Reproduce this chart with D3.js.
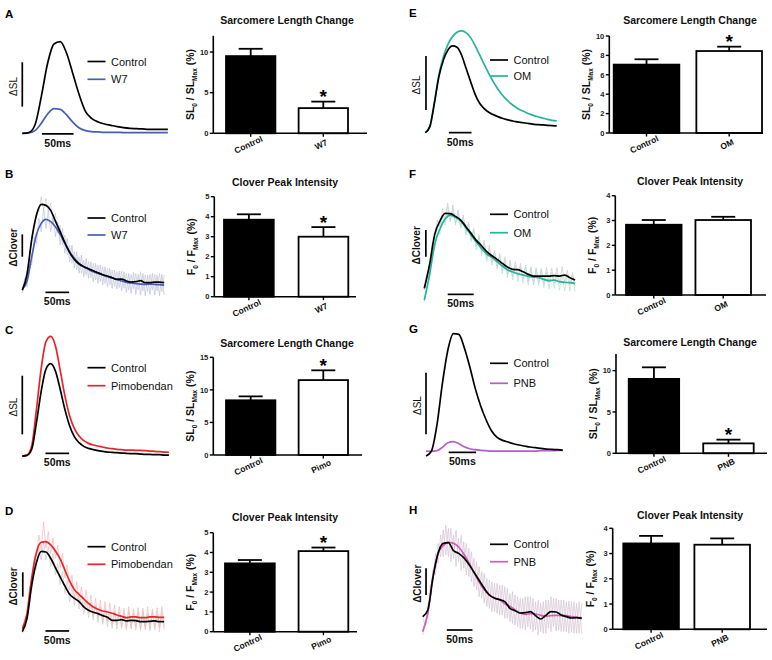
<!DOCTYPE html>
<html><head><meta charset="utf-8">
<script src="https://cdn.jsdelivr.net/npm/d3@7/dist/d3.min.js"></script>
<style>html,body{margin:0;padding:0;background:#fff;} svg{display:block;}</style>
</head><body>
<svg id="fig"></svg>
<script>
// ================= DATA =================
// Trace values (arbitrary units). Smooth traces sampled every 10 ms, raw traces every 5 ms.
const A_control = [0,2,25,110,210,268,275,240,178,115,65,44,34,28,24,20,17,15,14,13,12,12,12,12];
const A_w7      = [0,1,8,30,58,74,72,55,33,16,8,5,4,3,3,3,2,2,2,2,2,2,2,2];

const E_control = [2,20,90,170,220,250,262,258,235,195,155,117,90,74,63,56,50,45,41,38,35,33,31,29,27,26,25,24,23,22];
const E_om      = [2,20,92,175,230,267,290,303,307,302,287,263,235,207,180,155,133,115,100,88,78,70,64,58,53,49,45,42,39,37];

const C_control = [2,4,23,103,197,263,279,257,203,142,93,60,42,31,25,21,18,16,14,13,12,11,10,9,9,8,7,7,6,6,5,5];
const C_pimo    = [2,5,33,143,265,345,361,333,260,183,123,85,62,48,40,35,32,29,26,24,22,21,20,20,19,19,18,17,16,15,14,13];

const G_control = [2,17,95,220,320,369,367,327,270,205,152,110,77,58,49,44,39,35,32,29,27,25,23,22,21,20];
const G_pnb     = [17,16,18,28,42,45,39,30,24,21,19,18,17,17,17,17,17,17,17,17,17,18,18,18,19,19];

const B_control = [5,52,158,230,262,259,244,212,180,147,118,97,83,75,69,63,57,51,47,42,37,38,32,29,30,33,27,27,29,29,27];
const B_w7      = [8,32,105,172,205,217,210,195,172,145,120,100,85,75,67,60,55,50,45,41,37,32,28,26,24,23,22,23,22,21,20];
const B_control_raw = [0,35,60,100,155,185,240,240,285,245,280,240,265,205,235,175,200,140,170,110,140,85,120,65,105,55,95,50,90,42,85,35,80,30,75,25,70,20,65,15,60,12,62,10,55,5,52,8,55,5,60,2,50,0,52,5,52,2,55,0,50];
const B_w7_raw      = [-5,40,15,90,80,165,145,220,180,250,190,240,180,230,165,210,140,190,115,160,90,140,70,120,55,110,45,100,40,90,30,85,25,80,20,75,15,70,10,65,8,62,2,60,-2,55,-5,58,-8,52,-10,55,-12,50,-8,55,-10,50,-12,52,-10];

const F_control = [40,110,202,242,265,264,256,245,225,205,184,168,150,138,127,115,104,97,96,90,82,77,77,77,77,78,77,80,72,65];
const F_om      = [5,80,172,218,248,260,253,242,222,200,179,160,143,133,120,107,96,89,84,80,76,74,72,67,63,65,60,58,57,54];
const F_control_raw = [35,85,95,175,185,245,225,280,245,295,245,290,235,275,225,260,205,240,185,220,165,200,148,185,130,170,118,155,105,145,92,135,82,125,75,120,75,115,68,110,60,105,55,102,55,100,55,102,58,100,55,102,55,105,58,95,50,88,45];
const F_om_raw      = [0,50,65,145,155,220,200,260,230,285,240,280,230,270,220,255,200,235,180,215,155,195,138,175,120,160,110,150,98,138,85,125,72,115,65,110,60,105,55,102,50,100,50,98,48,95,42,90,38,88,40,85,35,82,32,82,32,80,30];

const D_control = [5,45,145,213,246,244,225,197,169,142,117,105,95,79,69,63,59,53,48,39,39,41,37,39,38,35,35,36,37,35,35];
const D_pimo    = [13,60,167,243,273,275,265,247,223,190,157,131,117,103,90,79,72,67,64,60,55,51,47,49,49,47,47,49,49,48,48];
const D_control_raw = [0,30,40,115,130,200,195,255,220,275,220,260,200,240,175,210,145,185,120,160,95,140,83,125,73,115,57,100,47,93,40,85,33,80,27,75,20,67,15,65,13,63,15,60,10,65,13,60,10,63,7,65,10,60,7,63,10,60,5,65,10];
const D_pimo_raw    = [13,45,55,135,155,230,230,295,250,335,255,305,240,285,225,265,195,240,165,205,130,175,105,155,90,140,75,130,60,115,50,105,45,100,35,95,33,90,27,85,25,80,20,75,17,80,15,73,20,77,15,75,17,80,15,73,20,77,17,80,20];

const H_control = [55,75,172,245,275,277,253,245,232,212,188,164,140,120,110,106,100,80,73,66,67,70,58,48,59,70,69,60,55,51,52,50];
const H_pnb     = [10,65,178,245,268,278,275,264,243,217,188,159,136,120,112,106,94,86,75,66,62,64,63,59,56,58,59,58,58,55,53,52];
const H_control_raw = [50,30,95,100,195,180,275,235,315,240,320,220,300,205,290,195,280,180,260,160,230,135,205,110,185,85,165,70,155,65,150,60,145,50,125,35,120,25,110,20,115,25,115,10,100,0,95,5,105,20,115,25,110,15,105,10,100,5,100,5,95,5,95];
const H_pnb_raw     = [0,45,50,150,155,245,215,300,235,330,235,320,230,315,220,300,200,275,175,250,145,220,115,190,95,170,80,160,70,155,60,150,50,140,40,130,30,115,20,110,15,115,18,110,15,105,10,100,5,105,10,110,12,105,10,105,10,102,8,100,5,100,5];

// Bar chart data (mean, upper error limit)
const A_cats = ["Control","W7"];   const A_mean = [9.5, 3.1];   const A_upper = [10.4, 3.9];  const A_ticks = [0,5,10];
const E_cats = ["Control","OM"];   const E_mean = [7.05, 8.45]; const E_upper = [7.6, 8.9];   const E_ticks = [0,2,4,6,8,10];
const B_cats = ["Control","W7"];   const B_mean = [3.85, 3.0];  const B_upper = [4.12, 3.48]; const B_ticks = [0,1,2,3,4,5];
const F_cats = ["Control","OM"];   const F_mean = [2.83, 3.02]; const F_upper = [3.02, 3.15]; const F_ticks = [0,1,2,3,4];
const C_cats = ["Control","Pimo"]; const C_mean = [8.4, 11.5];  const C_upper = [9.0, 13.0];  const C_ticks = [0,5,10,15];
const G_cats = ["Control","PNB"];  const G_mean = [9.0, 1.2];   const G_upper = [10.4, 1.65]; const G_ticks = [0,5,10];
const D_cats = ["Control","Pimo"]; const D_mean = [3.45, 4.07]; const D_upper = [3.62, 4.25]; const D_ticks = [0,1,2,3,4,5];
const H_cats = ["Control","PNB"];  const H_mean = [3.4, 3.35];  const H_upper = [3.7, 3.6];   const H_ticks = [0,1,2,3,4];

// ================= DRAWING =================
const FONT = "'Liberation Sans', Arial, Helvetica, sans-serif";
const svg = d3.select("#fig").attr("width", 772).attr("height", 660).style("font-family", FONT);

const COL = {
  ctrl: "#000000", ctrlRaw: "#c8c8c8",
  w7: "#4a5db3", w7Raw: "#b6bde0",
  om: "#25b39c", omRaw: "#addfd3",
  pimo: "#e8242b", pimoRaw: "#f5b2b2",
  pnbG: "#b062c4", pnbH: "#d35db6", pnbRaw: "#dcbad8"
};

function drawTracePanel(p) {
  const g = svg.append("g");
  const n = p.series[0].values.length;
  const T = (n - 1) * 10;
  const x = d3.scaleLinear().domain([0, T]).range([p.x0, p.x0 + T * p.ppm]);
  const y = d3.scaleLinear().domain([0, 300]).range([p.yBase, p.yBase - 100]);
  const rawLine = d3.line().x((v, i) => x(i * 5)).y(v => y(v));
  const smLine = d3.line().x((v, i) => x(i * 10)).y(v => y(v)).curve(d3.curveMonotoneX);
  p.series.forEach(s => {
    if (s.raw) g.append("path").attr("d", rawLine(s.raw)).attr("fill", "none")
      .attr("stroke", s.rawColor).attr("stroke-width", 0.65);
  });
  p.series.slice().reverse().forEach(s => {
    g.append("path").attr("d", smLine(s.values)).attr("fill", "none")
      .attr("stroke", s.color).attr("stroke-width", 1.7).attr("stroke-linejoin", "round");
  });
  // vertical scale bar
  const sx = x(p.sb.t);
  const sy1 = y(p.sb.v[1]), sy2 = y(p.sb.v[0]);
  g.append("line").attr("x1", sx).attr("x2", sx).attr("y1", sy1).attr("y2", sy2)
    .attr("stroke", "#000").attr("stroke-width", 1.7);
  g.append("text").attr("transform", `translate(${sx - 5.5},${(sy1 + sy2) / 2 + 2}) rotate(-90)`)
    .attr("text-anchor", "middle").attr("font-size", 10)
    .attr("font-weight", p.ylabBold ? "bold" : "normal").attr("fill", "#111").text(p.ylab);
  // time bar
  const ty = y(p.tb.v), tx1 = x(p.tb.t), tx2 = x(p.tb.t + 50);
  g.append("line").attr("x1", tx1).attr("x2", tx2).attr("y1", ty).attr("y2", ty)
    .attr("stroke", "#000").attr("stroke-width", 1.7);
  g.append("text").attr("x", (tx1 + tx2) / 2).attr("y", ty + 13).attr("text-anchor", "middle")
    .attr("font-size", 10.5).attr("font-weight", "bold").attr("fill", "#111").text("50ms");
  // legend
  p.series.forEach((s, i) => {
    const ly = p.legend.y[i];
    g.append("line").attr("x1", p.legend.x).attr("x2", p.legend.x + 18).attr("y1", ly).attr("y2", ly)
      .attr("stroke", s.color).attr("stroke-width", 1.7);
    g.append("text").attr("x", p.legend.x + 23.5).attr("y", ly + 4).attr("font-size", 11)
      .attr("fill", "#111").text(s.name);
  });
  // panel letter
  g.append("text").attr("x", p.letter[0]).attr("y", p.letter[1]).attr("font-size", 11.5)
    .attr("font-weight", "bold").text(p.id);
}

function drawBarPanel(b) {
  const g = svg.append("g");
  const y = d3.scaleLinear().domain([0, b.max]).range([b.y0, b.yTop]);
  const x = d3.scaleBand().domain(b.cats).range([b.barsL, b.barsR]).paddingInner(b.pi).paddingOuter(0);
  const bw = x.bandwidth();
  b.cats.forEach((c, i) => {
    g.append("rect").attr("x", x(c)).attr("width", bw).attr("y", y(b.mean[i]))
      .attr("height", y(0) - y(b.mean[i]))
      .attr("fill", i === 0 ? "#000" : "#fff").attr("stroke", "#000").attr("stroke-width", 1.8);
    const cx = x(c) + bw / 2;
    g.append("line").attr("x1", cx).attr("x2", cx).attr("y1", y(b.mean[i])).attr("y2", y(b.upper[i]))
      .attr("stroke", "#000").attr("stroke-width", 1.8);
    g.append("line").attr("x1", cx - 12).attr("x2", cx + 12).attr("y1", y(b.upper[i])).attr("y2", y(b.upper[i]))
      .attr("stroke", "#000").attr("stroke-width", 1.8);
    if (b.star === i) {
      g.append("text").attr("x", cx).attr("y", y(b.upper[i]) + 1.5).attr("text-anchor", "middle")
        .attr("font-size", 19).attr("font-weight", "bold").text("*");
    }
    g.append("line").attr("x1", cx).attr("x2", cx).attr("y1", b.y0).attr("y2", b.y0 + 3.5)
      .attr("stroke", "#000").attr("stroke-width", 1.4);
    g.append("text").attr("transform", `translate(${cx - 1},${b.y0 + 14}) rotate(-25)`)
      .attr("text-anchor", "middle").attr("font-size", 8.5).attr("font-weight", "bold")
      .attr("fill", "#111").text(c);
  });
  g.append("line").attr("x1", b.axisX).attr("x2", b.axisX).attr("y1", y(0)).attr("y2", y(b.max))
    .attr("stroke", "#000").attr("stroke-width", 1.6);
  g.append("line").attr("x1", b.axisX).attr("x2", b.xEnd).attr("y1", y(0)).attr("y2", y(0))
    .attr("stroke", "#000").attr("stroke-width", 1.6);
  b.ticks.forEach(t => {
    g.append("line").attr("x1", b.axisX - 3.5).attr("x2", b.axisX).attr("y1", y(t)).attr("y2", y(t))
      .attr("stroke", "#000").attr("stroke-width", 1.4);
    g.append("text").attr("x", b.axisX - 5).attr("y", y(t) + 2.7).attr("text-anchor", "end")
      .attr("font-size", 7.5).attr("font-weight", "bold").attr("fill", "#222").text(t);
  });
  const lbl = g.append("text")
    .attr("transform", `translate(${b.axisX - 19},${(y(0) + y(b.max)) / 2}) rotate(-90)`)
    .attr("text-anchor", "middle").attr("font-size", 10.5).attr("font-weight", "bold").attr("fill", "#111");
  lbl.append("tspan").text(b.ylab[0]);
  lbl.append("tspan").attr("font-size", 6.5).attr("dy", 2.8).text("0");
  lbl.append("tspan").attr("dy", -2.8).text(" / " + b.ylab[0]);
  lbl.append("tspan").attr("font-size", 6.5).attr("dy", 2.8).text("Max");
  lbl.append("tspan").attr("dy", -2.8).text(" (%)");
  g.append("text").attr("x", b.titleX).attr("y", b.titleY + 3.7).attr("text-anchor", "middle")
    .attr("font-size", 10.5).attr("font-weight", "bold").attr("fill", "#111").text(b.title);
}

const traceLayouts = [
  { id: "A", letter: [5, 18], x0: 22.3, ppm: 0.633, yBase: 133.3, ylab: "\u0394SL",
    series: [{ name: "Control", values: A_control, color: COL.ctrl }, { name: "W7", values: A_w7, color: COL.w7 }],
    sb: { t: 0, v: [80, 213] }, tb: { t: 31, v: -2 }, legend: { x: 87.5, y: [61.5, 79.3] } },
  { id: "E", letter: [409, 17], x0: 425.3, ppm: 0.453, yBase: 133.3, ylab: "\u0394SL",
    series: [{ name: "Control", values: E_control, color: COL.ctrl }, { name: "OM", values: E_om, color: COL.om }],
    sb: { t: 1.5, v: [70, 232] }, tb: { t: 52, v: 2 }, legend: { x: 490, y: [60, 76] } },
  { id: "C", letter: [5, 334], x0: 22.3, ppm: 0.473, yBase: 456.7, ylab: "\u0394SL",
    series: [{ name: "Control", values: C_control, color: COL.ctrl }, { name: "Pimobendan", values: C_pimo, color: COL.pimo }],
    sb: { t: 0, v: [67, 243] }, tb: { t: 49, v: 10 }, legend: { x: 87.5, y: [367.7, 385.7] } },
  { id: "G", letter: [409, 333], x0: 426, ppm: 0.547, yBase: 456.7, ylab: "\u0394SL",
    series: [{ name: "Control", values: G_control, color: COL.ctrl }, { name: "PNB", values: G_pnb, color: COL.pnbG }],
    sb: { t: 0, v: [67, 252] }, tb: { t: 41.5, v: 13 }, legend: { x: 490, y: [363.3, 383.3] } },
  { id: "B", letter: [5, 178], x0: 22.3, ppm: 0.473, yBase: 291.7, ylab: "\u0394Clover", ylabBold: true,
    series: [{ name: "Control", values: B_control, raw: B_control_raw, color: COL.ctrl, rawColor: COL.ctrlRaw },
             { name: "W7", values: B_w7, raw: B_w7_raw, color: COL.w7, rawColor: COL.w7Raw }],
    sb: { t: 0, v: [105, 172] }, tb: { t: 49, v: -2 }, legend: { x: 87.5, y: [218, 235] } },
  { id: "F", letter: [409, 178], x0: 424.3, ppm: 0.52, yBase: 301.7, ylab: "\u0394Clover", ylabBold: true,
    series: [{ name: "Control", values: F_control, raw: F_control_raw, color: COL.ctrl, rawColor: COL.ctrlRaw },
             { name: "OM", values: F_om, raw: F_om_raw, color: COL.om, rawColor: COL.omRaw }],
    sb: { t: 3, v: [135, 215] }, tb: { t: 45, v: 22 }, legend: { x: 490, y: [214.3, 232.7] } },
  { id: "D", letter: [5, 515], x0: 22.3, ppm: 0.473, yBase: 633.3, ylab: "\u0394Clover", ylabBold: true,
    series: [{ name: "Control", values: D_control, raw: D_control_raw, color: COL.ctrl, rawColor: COL.ctrlRaw },
             { name: "Pimobendan", values: D_pimo, raw: D_pimo_raw, color: COL.pimo, rawColor: COL.pimoRaw }],
    sb: { t: 1, v: [110, 183] }, tb: { t: 49, v: 7 }, legend: { x: 87.5, y: [546.7, 564.3] } },
  { id: "H", letter: [409, 514], x0: 422.7, ppm: 0.513, yBase: 635, ylab: "\u0394Clover", ylabBold: true,
    series: [{ name: "Control", values: H_control, raw: H_control_raw, color: COL.ctrl, rawColor: COL.ctrlRaw },
             { name: "PNB", values: H_pnb, raw: H_pnb_raw, color: COL.pnbH, rawColor: COL.pnbRaw }],
    sb: { t: 6.5, v: [120, 200] }, tb: { t: 47, v: 15 }, legend: { x: 490, y: [544.3, 561.7] } }
];

const SLC = "Sarcomere Length Change", CPI = "Clover Peak Intensity";
const barLayouts = [
  { cats: A_cats, mean: A_mean, upper: A_upper, ticks: A_ticks, max: 12, star: 1, title: SLC, ylab: ["SL"],
    axisX: 213.3, xEnd: 367, barsL: 226, barsR: 348, pi: 0.32, y0: 133.3, yTop: 35.8, titleX: 287, titleY: 20.5 },
  { cats: E_cats, mean: E_mean, upper: E_upper, ticks: E_ticks, max: 10, star: 1, title: SLC, ylab: ["SL"],
    axisX: 609.3, xEnd: 763, barsL: 613.7, barsR: 762, pi: 0.206, y0: 133, yTop: 36, titleX: 690, titleY: 20 },
  { cats: B_cats, mean: B_mean, upper: B_upper, ticks: B_ticks, max: 5, star: 1, title: CPI, ylab: ["F"],
    axisX: 214.3, xEnd: 356, barsL: 224, barsR: 348.3, pi: 0.333, y0: 296.7, yTop: 196.7, titleX: 285, titleY: 182 },
  { cats: F_cats, mean: F_mean, upper: F_upper, ticks: F_ticks, max: 4, star: -1, title: CPI, ylab: ["F"],
    axisX: 615.3, xEnd: 766, barsL: 626, barsR: 751, pi: 0.2, y0: 295, yTop: 195.7, titleX: 690, titleY: 181 },
  { cats: C_cats, mean: C_mean, upper: C_upper, ticks: C_ticks, max: 15, star: 1, title: SLC, ylab: ["SL"],
    axisX: 213.3, xEnd: 362, barsL: 226, barsR: 348, pi: 0.32, y0: 455, yTop: 357.3, titleX: 287, titleY: 343 },
  { cats: G_cats, mean: G_mean, upper: G_upper, ticks: G_ticks, max: 12, star: 1, title: SLC, ylab: ["SL"],
    axisX: 616, xEnd: 767, barsL: 628.7, barsR: 753.7, pi: 0.323, y0: 453.3, yTop: 354.1, titleX: 690, titleY: 342 },
  { cats: D_cats, mean: D_mean, upper: D_upper, ticks: D_ticks, max: 5, star: 1, title: CPI, ylab: ["F"],
    axisX: 213.3, xEnd: 357, barsL: 225, barsR: 348.3, pi: 0.324, y0: 631.7, yTop: 532.7, titleX: 285, titleY: 517 },
  { cats: H_cats, mean: H_mean, upper: H_upper, ticks: H_ticks, max: 4, star: -1, title: CPI, ylab: ["F"],
    axisX: 612.7, xEnd: 767, barsL: 623.3, barsR: 750, pi: 0.218, y0: 629.3, yTop: 528.3, titleX: 690, titleY: 515 }
];

traceLayouts.forEach(drawTracePanel);
barLayouts.forEach(drawBarPanel);
</script>
</body></html>
